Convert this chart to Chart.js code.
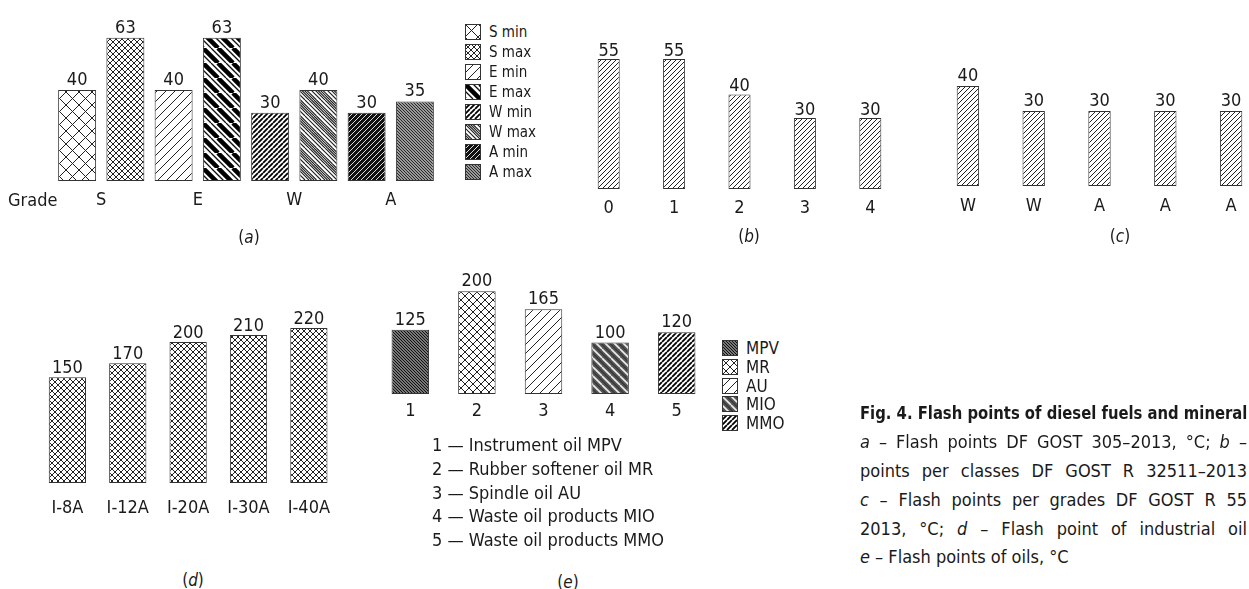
<!DOCTYPE html>
<html><head><meta charset="utf-8">
<script src="https://cdn.jsdelivr.net/npm/chart.js@4.4.0/dist/chart.umd.min.js"></script>
<style>
html,body{margin:0;padding:0;width:1249px;height:589px;overflow:hidden;background:#fff;}
body{position:relative;font-family:'DejaVu Sans Condensed','Liberation Sans Narrow',sans-serif;color:#1a1a1a;}
canvas{position:absolute;}
.t{position:absolute;white-space:nowrap;line-height:1;}
.c{transform:translateX(-50%);}
.leg{position:absolute;display:flex;align-items:center;white-space:nowrap;}
.leg canvas{position:static;margin-right:8px;}
.cap{position:absolute;left:860px;width:387px;white-space:nowrap;font-size:18px;line-height:1;text-align:justify;text-align-last:justify;}
</style></head><body>
<script>
// ---------- data ----------
const gradeLabels = ['S', 'E', 'W', 'A'];
const gradeMin = [40, 40, 30, 30];
const gradeMax = [63, 63, 40, 35];
const gradeLegend = ['S min', 'S max', 'E min', 'E max', 'W min', 'W max', 'A min', 'A max'];
const classLabels = ['0', '1', '2', '3', '4'];
const classValues = [55, 55, 40, 30, 30];
const gradeCLabels = ['W', 'W', 'A', 'A', 'A'];
const gradeCValues = [40, 30, 30, 30, 30];
const indLabels = ['I-8A', 'I-12A', 'I-20A', 'I-30A', 'I-40A'];
const indValues = [150, 170, 200, 210, 220];
const oilLabels = ['1', '2', '3', '4', '5'];
const oilValues = [125, 200, 165, 100, 120];
const oilCodes = ['MPV', 'MR', 'AU', 'MIO', 'MMO'];
const oilNames = ['Instrument oil MPV', 'Rubber softener oil MR', 'Spindle oil AU', 'Waste oil products MIO', 'Waste oil products MMO'];

const FONT = "'DejaVu Sans Condensed','Liberation Sans Narrow',sans-serif";
Chart.defaults.font.family = FONT;
Chart.defaults.color = '#1a1a1a';

// ---------- patterns ----------
function tile(s, bg, draw) {
  const c = document.createElement('canvas'); c.width = s; c.height = s;
  const g = c.getContext('2d'); g.fillStyle = bg; g.fillRect(0, 0, s, s);
  draw(g, s);
  return { canvas: c, pat: g.createPattern(c, 'repeat') };
}
function diag(g, s, dir, off, w, col) {
  g.strokeStyle = col; g.lineWidth = w; g.beginPath();
  for (let k = -1; k <= 1; k++) {
    if (dir === '/') { g.moveTo(k * s + off, s); g.lineTo(k * s + off + s, 0); }
    else { g.moveTo(k * s + off, 0); g.lineTo(k * s + off + s, s); }
  }
  g.stroke();
}
const T = {
  'S min': tile(13, '#fff', (g, s) => { diag(g, s, '/', 0, 1, '#222'); diag(g, s, '\\', 0, 1, '#222'); }),
  'S max': tile(6, '#fff', (g, s) => { diag(g, s, '/', 0, 1, '#222'); diag(g, s, '\\', 0, 1, '#222'); }),
  'E min': tile(9, '#fff', (g, s) => { diag(g, s, '/', 0, 1, '#222'); }),
  'E max': tile(15, '#fff', (g, s) => { diag(g, s, '\\', 0, 4.5, '#000'); diag(g, s, '\\', 8, 1.3, '#111'); }),
  'W min': tile(5, '#fff', (g, s) => { diag(g, s, '/', 0, 1.8, '#000'); }),
  'W max': tile(16, '#fff', (g, s) => { [0, 2.5, 5, 7.5].forEach(o => diag(g, s, '\\', o, 1.2, '#222')); diag(g, s, '\\', 12, 1.2, '#222'); }),
  'A min': tile(5, '#111', (g, s) => { diag(g, s, '/', 0, 1, '#ddd'); }),
  'A max': tile(3, '#999', (g, s) => { diag(g, s, '\\', 0, 1, '#2a2a2a'); }),
  'bc': tile(5, '#fff', (g, s) => { diag(g, s, '/', 0, 1, '#222'); }),
  'ind': tile(6, '#fff', (g, s) => { diag(g, s, '/', 0, 1, '#222'); diag(g, s, '\\', 0, 1, '#222'); }),
  'MPV': tile(3, '#777', (g, s) => { diag(g, s, '\\', 0, 1, '#111'); }),
  'MR': tile(8, '#fff', (g, s) => { diag(g, s, '/', 0, 1, '#222'); diag(g, s, '\\', 0, 1, '#222'); }),
  'AU': tile(9, '#fff', (g, s) => { diag(g, s, '/', 0, 1, '#222'); }),
  'MIO': tile(9, '#555', (g, s) => { diag(g, s, '\\', 0, 1.6, '#eee'); diag(g, s, '\\', 4.5, 1, '#222'); }),
  'MMO': tile(5, '#fff', (g, s) => { diag(g, s, '/', 0, 1.8, '#000'); })
};
const P = k => T[k].pat;

// ---------- value label plugin ----------
const valueLabels = {
  id: 'valueLabels',
  afterDatasetsDraw(chart, args, opts) {
    const ctx = chart.ctx; ctx.save();
    ctx.font = (opts.size || 18) + 'px ' + FONT;
    ctx.fillStyle = '#1a1a1a'; ctx.textAlign = 'center'; ctx.textBaseline = 'alphabetic';
    chart.data.datasets.forEach((ds, i) => {
      chart.getDatasetMeta(i).data.forEach((el, j) => {
        ctx.fillText(String(ds.data[j]), el.x, el.y - (opts.gap ?? 4));
      });
    });
    ctx.restore();
  }
};

function barChart(o) {
  const plotH = o.max * o.k;
  const XH = 44;
  const top = Math.round(o.bottom - plotH - 34);
  const areaBottom = o.bottom - top;
  const cv = document.createElement('canvas');
  cv.width = o.width; cv.height = areaBottom + XH;
  cv.style.left = o.left + 'px'; cv.style.top = top + 'px';
  document.body.appendChild(cv);
  new Chart(cv, {
    type: 'bar',
    data: { labels: o.labels, datasets: o.datasets.map(d => Object.assign({
      borderWidth: 1, borderColor: '#333', borderSkipped: false,
      categoryPercentage: 1, barPercentage: o.bp
    }, d)) },
    options: {
      responsive: false, animation: false, events: [], devicePixelRatio: 1,
      layout: { padding: { top: areaBottom - plotH, left: 0, right: 0, bottom: 0 } },
      plugins: { legend: { display: false }, tooltip: { enabled: false }, valueLabels: { gap: o.gap, size: 18 } },
      scales: {
        x: { grid: { display: false, drawTicks: false }, border: { display: false },
             ticks: { padding: o.tickPad, font: { size: 18 }, color: '#1a1a1a', maxRotation: 0, autoSkip: false },
             afterFit(s) { s.height = XH; } },
        y: { display: false, min: 0, max: o.max }
      }
    },
    plugins: [valueLabels]
  });
}

// (a)
barChart({ left: 53, width: 386, bottom: 181, k: 2.275, max: 70, bp: 0.787, gap: 5, tickPad: 9,
  labels: gradeLabels,
  datasets: [
    { data: gradeMin, backgroundColor: [P('S min'), P('E min'), P('W min'), P('A min')] },
    { data: gradeMax, backgroundColor: [P('S max'), P('E max'), P('W max'), P('A max')] }
  ] });
// (b)
barChart({ left: 576, width: 327, bottom: 189, k: 2.364, max: 70, bp: 0.337, gap: 3, tickPad: 9,
  labels: classLabels, datasets: [{ data: classValues, backgroundColor: P('bc') }] });
// (c)
barChart({ left: 935, width: 329, bottom: 186, k: 2.5, max: 60, bp: 0.34, gap: 5, tickPad: 10,
  labels: gradeCLabels, datasets: [{ data: gradeCValues, backgroundColor: P('bc') }] });
// (d)
barChart({ left: 37, width: 308, bottom: 483, k: 0.705, max: 300, bp: 0.617, gap: 4, tickPad: 15,
  labels: indLabels, datasets: [{ data: indValues, backgroundColor: P('ind') }] });
// (e)
barChart({ left: 377, width: 333, bottom: 394, k: 0.514, max: 250, bp: 0.563, gap: 5, tickPad: 7,
  labels: oilLabels, datasets: [{ data: oilValues, backgroundColor: oilCodes.map(P) }] });

// ---------- text helpers ----------
function txt(html, x, y, size, center, extra) {
  const d = document.createElement('div');
  d.className = 't' + (center ? ' c' : '');
  d.style.left = x + 'px'; d.style.top = (y - 0.49 * size) + 'px'; d.style.fontSize = size + 'px';
  if (extra) Object.assign(d.style, extra);
  d.innerHTML = html; document.body.appendChild(d); return d;
}
function legend(items, x, y0, dy, size) {
  items.forEach((name, i) => {
    const row = document.createElement('div'); row.className = 'leg';
    row.style.left = x + 'px'; row.style.top = (y0 + i * dy - 8) + 'px'; row.style.height = '16px';
    row.style.fontSize = size + 'px';
    const c = document.createElement('canvas'); c.width = 16; c.height = 16;
    const g = c.getContext('2d'); g.fillStyle = T[name].pat; g.fillRect(0, 0, 16, 16);
    g.strokeStyle = '#333'; g.lineWidth = 1; g.strokeRect(0.5, 0.5, 15, 15);
    row.appendChild(c);
    const s = document.createElement('span'); s.textContent = name; row.appendChild(s);
    document.body.appendChild(row);
  });
}

txt('Grade', 8, 200, 18);
legend(gradeLegend, 465, 32, 20, 15);
legend(oilCodes, 722, 348, 18.8, 17);

txt('(<i>a</i>)', 249, 237, 17, true);
txt('(<i>b</i>)', 749, 236, 17, true);
txt('(<i>c</i>)', 1120, 236, 17, true);
txt('(<i>d</i>)', 193, 580, 17, true);
txt('(<i>e</i>)', 568, 582, 17, true);

oilNames.forEach((n, i) => txt(oilLabels[i] + ' — ' + n, 432, 445 + i * 23.7, 18));

// caption
const capLines = [
  '<i>a</i> – Flash points DF GOST 305–2013, °C; <i>b</i> –',
  'points per classes DF GOST R 32511–2013',
  '<i>c</i> – Flash points per grades DF GOST R 55',
  '2013, °C; <i>d</i> – Flash point of industrial oil'
];
const fig = txt('<b>Fig. 4. Flash points of diesel fuels and mineral</b>', 860, 413, 18, false, { transformOrigin: '0 0' });
const fw = fig.scrollWidth;
if (fw > 387) fig.style.transform = 'scaleX(' + (387 / fw) + ')';
capLines.forEach((l, i) => {
  const d = document.createElement('div'); d.className = 'cap';
  d.style.top = (442 + i * 28.8 - 0.49 * 18) + 'px'; d.innerHTML = l; document.body.appendChild(d);
});
txt('<i>e</i> – Flash points of oils, °C', 860, 442 + 4 * 28.8, 18);
</script>
</body></html>
